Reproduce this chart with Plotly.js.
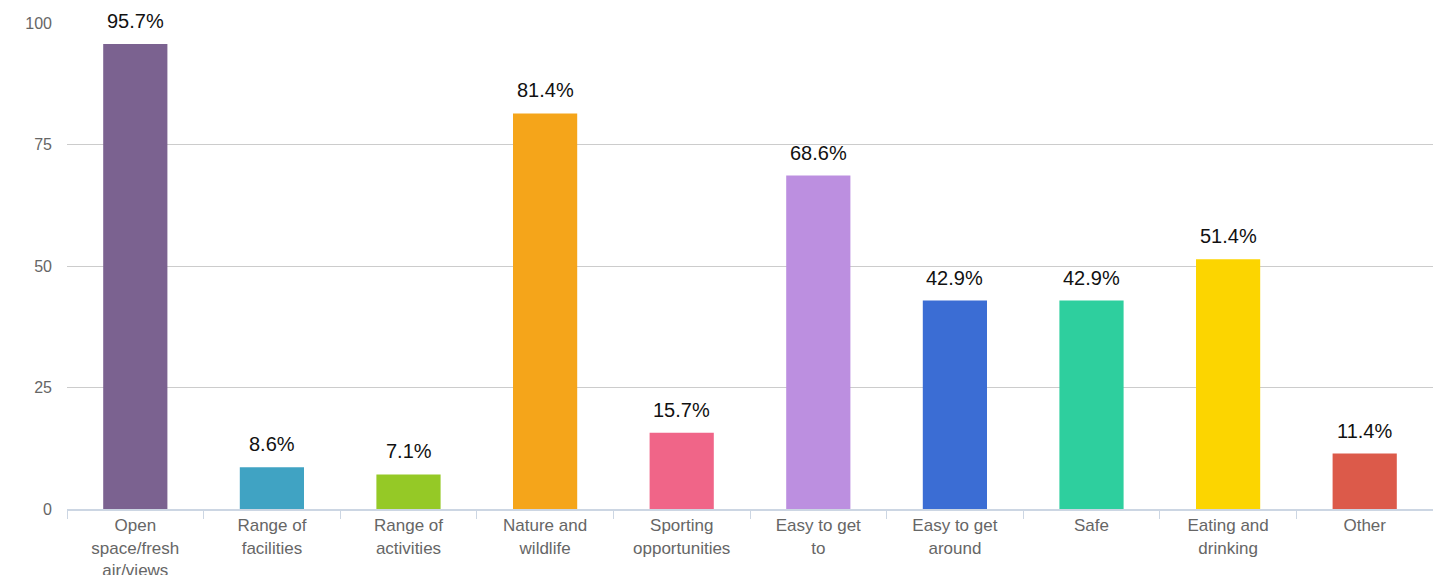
<!DOCTYPE html>
<html>
<head>
<meta charset="utf-8">
<script src="https://cdn.plot.ly/plotly-3.0.1.min.js"></script>
<style>html,body{margin:0;padding:0;background:#fff;}#chart{width:1433px;height:575px;}</style>
</head>
<body>
<div id="chart"></div>
<script>
const categories = ["Open<br>space/fresh<br>air/views", "Range of<br>facilities", "Range of<br>activities", "Nature and<br>wildlife", "Sporting<br>opportunities", "Easy to get<br>to", "Easy to get<br>around", "Safe", "Eating and<br>drinking", "Other"];
const values = [95.7, 8.6, 7.1, 81.4, 15.7, 68.6, 42.9, 42.9, 51.4, 11.4];
const colors = ["#7b6290", "#40a3c3", "#95c926", "#f5a51a", "#f06588", "#bc8fe0", "#3b6dd4", "#2ecf9e", "#fcd500", "#dc5a4a"];
const yTicks = [0, 25, 50, 75, 100];

const trace = {
  type: "bar",
  x: categories,
  y: values,
  marker: {color: colors},
  hoverinfo: "none"
};

const annotations = categories.map((c, i) => ({
  x: c, y: values[i], xref: "x", yref: "y",
  text: values[i].toFixed(1) + "%",
  showarrow: false, yanchor: "bottom", yshift: 10,
  font: {family: "Liberation Sans, Arial, sans-serif", size: 20, color: "#111"}
}));

const layout = {
  width: 1433, height: 575,
  margin: {l: 67, r: 0, t: 23, b: 66},
  paper_bgcolor: "#fff", plot_bgcolor: "#fff",
  bargap: 0.53,
  showlegend: false,
  font: {family: "Liberation Sans, Arial, sans-serif", color: "#666"},
  annotations: annotations,
  xaxis: {
    tickson: "boundaries",
    ticks: "outside", ticklen: 8, tickcolor: "#ccd6e3", tickwidth: 1,
    showline: true, linecolor: "#ccd6e3", linewidth: 2,
    showgrid: false,
    tickfont: {size: 17, color: "#666"},
    automargin: false
  },
  yaxis: {
    range: [0, 100],
    tickvals: yTicks,
    ticktext: yTicks.map(String),
    showgrid: true, gridcolor: "#cccccc", gridwidth: 1,
    zeroline: false,
    showline: false,
    ticks: "", ticklabelstandoff: 14,
    tickfont: {size: 16, color: "#666"},
    automargin: false
  }
};

Plotly.newPlot("chart", [trace], layout, {displayModeBar: false, staticPlot: true});
</script>
</body>
</html>
